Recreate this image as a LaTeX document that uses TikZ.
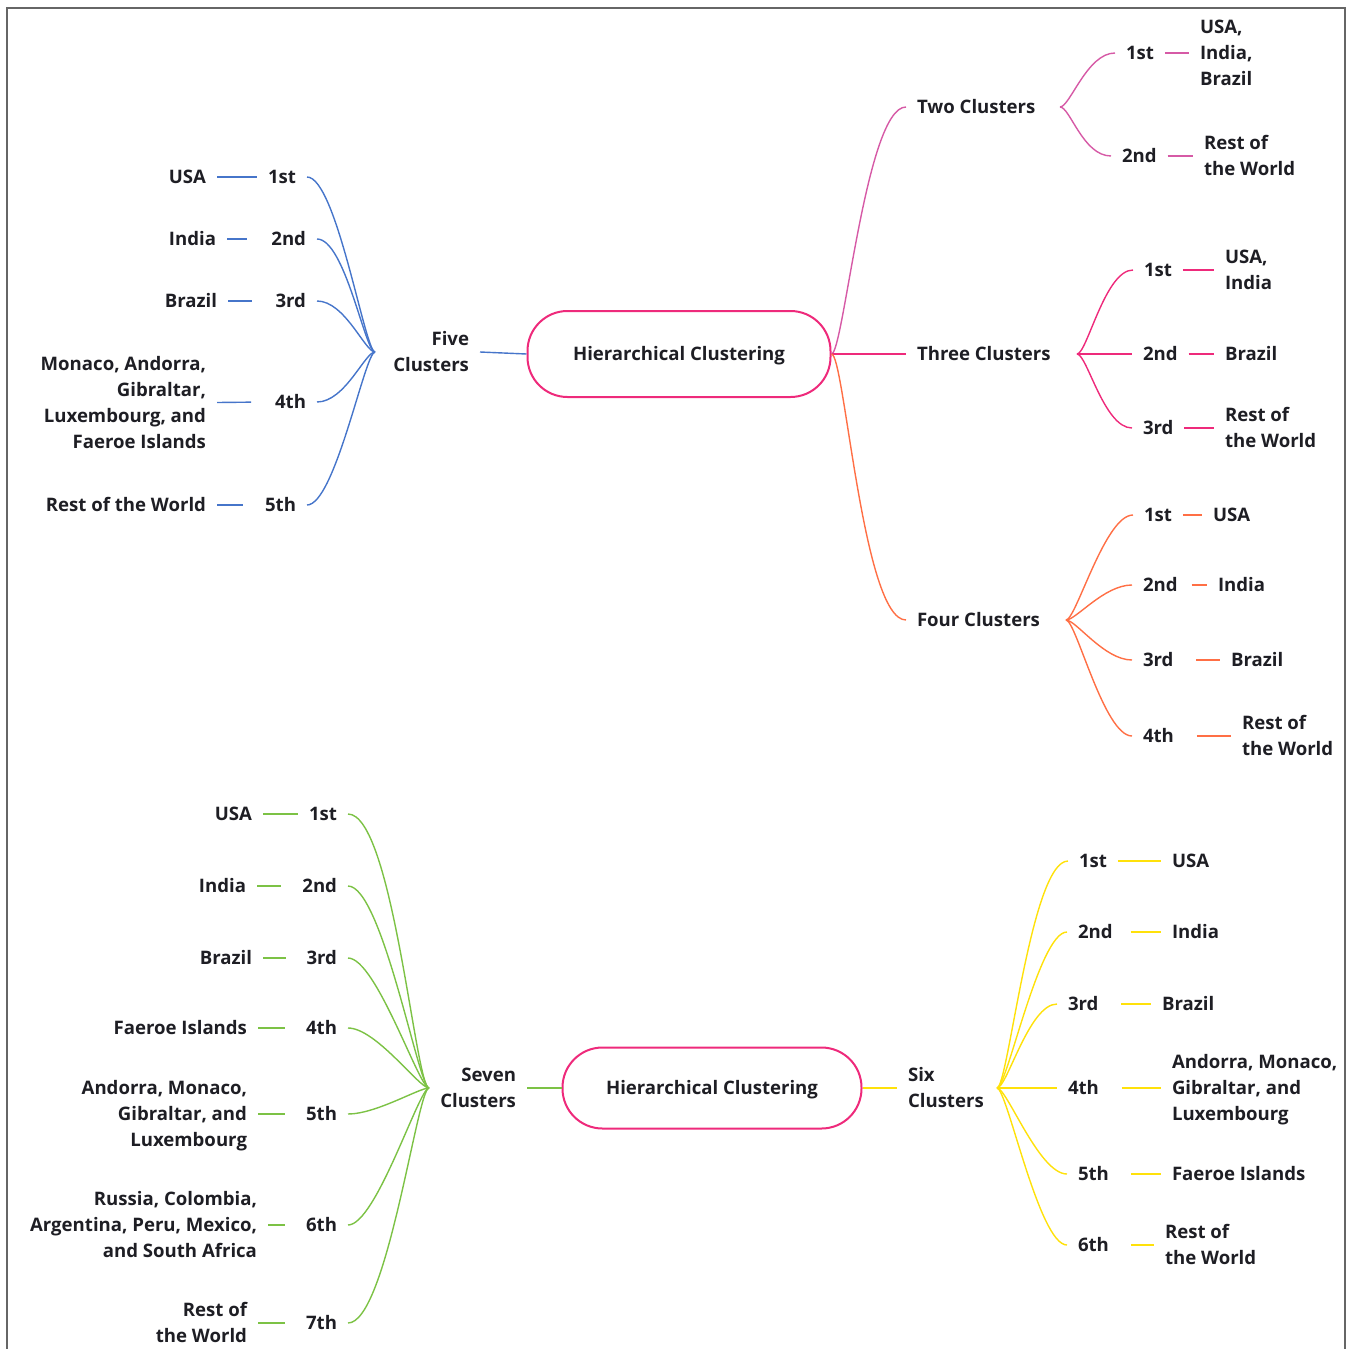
\documentclass[tikz,border=0pt]{standalone}
\usepackage{fontspec}
\setmainfont{Open Sans}
\definecolor{ink}{HTML}{1E1E24}
\definecolor{cblue}{HTML}{4675CA}
\definecolor{cmag}{HTML}{D65AA6}
\definecolor{cpink}{HTML}{EE2A7B}
\definecolor{corange}{HTML}{FF6F45}
\definecolor{cgreen}{HTML}{7CC245}
\definecolor{cyellow}{HTML}{FFE10A}
\definecolor{frame}{HTML}{666666}
\newcommand\zst{\rule[-0.25em]{0pt}{1.22em}}
\newcommand\fs{\bfseries\fontsize{18.6}{26}\selectfont}
\tikzset{
  txt/.style={inner sep=0pt, outer xsep=11pt, outer ysep=0pt, font=\fs, text=ink},
  lt/.style={txt, anchor=east, xshift=11pt},
  rt/.style={txt, anchor=west, xshift=-11pt},
  hcbox/.style={draw=cpink, line width=2pt, rounded corners=40pt, inner sep=0pt, font=\fs, text=ink},
  lnk/.style={line width=1.4pt},
  fanL/.style={lnk, out=0, in=180, out looseness=0.4, in looseness=0.12, out min distance=28pt, in min distance=10pt},
  fanR/.style={lnk, out=0, in=180, out looseness=0.12, in looseness=0.4, out min distance=10pt, in min distance=28pt}
}
\begin{document}
\begin{tikzpicture}[x=1pt,y=-1pt]
\useasboundingbox (0,0) rectangle (1348,1349);
\draw[frame, line width=1.5pt] (7,1352) -- (7,8) -- (1345,8) -- (1345,1352);

%================ TOP =================
\node[hcbox, minimum width=303pt, minimum height=86pt] (hc1) at (679,354) {\zst Hierarchical Clustering};

% ---- left : five clusters (blue)
\node[lt, align=right] (five) at (469,352) {\zst Five\\\zst Clusters};
\coordinate (f5) at (375,352);
\node[lt] (a1) at (296,177) {\zst 1st};
\node[lt] (a2) at (306,239) {\zst 2nd};
\node[lt] (a3) at (306,301) {\zst 3rd};
\node[lt] (a4) at (306,402) {\zst 4th};
\node[lt] (a5) at (296,505) {\zst 5th};
\node[lt] (ai1) at (206,177) {\zst USA};
\node[lt] (ai2) at (216,239) {\zst India};
\node[lt] (ai3) at (217,301) {\zst Brazil};
\node[lt, align=right] (ai4) at (206,402.5) {\zst Monaco, Andorra,\\\zst Gibraltar,\\\zst Luxembourg, and\\\zst Faeroe Islands};
\node[lt] (ai5) at (206,505) {\zst Rest of the World};
\begin{scope}[cblue]
\draw[lnk] (five.east) -- (hc1.west);
\foreach \i in {1,...,5} {\draw[fanL] (a\i.east) to (f5);}
\draw[lnk] (ai1.east) -- (a1.west);
\draw[lnk, shorten >=13pt] (ai2.east) -- (a2.west);
\draw[lnk, shorten >=13pt] (ai3.east) -- (a3.west);
\draw[lnk, shorten >=13pt] (ai4.east) -- (a4.west);
\draw[lnk, shorten >=11pt] (ai5.east) -- (a5.west);
\end{scope}

% ---- right : cluster labels
\node[rt] (two) at (917,107) {\zst Two Clusters};
\node[rt] (three) at (917,354) {\zst Three Clusters};
\node[rt] (four) at (917,620) {\zst Four Clusters};
\draw[fanR, cmag] (hc1.east) to (two.west);
\draw[lnk, cpink] (hc1.east) -- (three.west);
\draw[fanR, corange] (hc1.east) to (four.west);

% two clusters
\coordinate (f2) at (1060,107);
\node[rt] (b1) at (1126,53) {\zst 1st};
\node[rt] (b2) at (1122,156) {\zst 2nd};
\node[rt, align=left] (bi1) at (1200,53) {\zst USA,\\\zst India,\\\zst Brazil};
\node[rt, align=left] (bi2) at (1204,156) {\zst Rest of\\\zst the World};
\begin{scope}[cmag]
\draw[fanR] (f2) to (b1.west);
\draw[fanR] (f2) to (b2.west);
\draw[lnk] (b1.east) -- (bi1.west);
\draw[lnk] (b2.east) -- (bi2.west);
\end{scope}

% three clusters
\coordinate (f3) at (1077,354);
\node[rt] (c1) at (1144,270) {\zst 1st};
\node[rt] (c2) at (1143,354) {\zst 2nd};
\node[rt] (c3) at (1143,428) {\zst 3rd};
\node[rt, align=left] (ci1) at (1225,270) {\zst USA,\\\zst India};
\node[rt] (ci2) at (1225,354) {\zst Brazil};
\node[rt, align=left] (ci3) at (1225,428) {\zst Rest of\\\zst the World};
\begin{scope}[cpink]
\foreach \i in {1,2,3} {\draw[fanR] (f3) to (c\i.west);}
\draw[lnk] (c1.east) -- (ci1.west);
\draw[lnk] (c2.east) -- (ci2.west);
\draw[lnk] (c3.east) -- (ci3.west);
\end{scope}

% four clusters
\coordinate (f4) at (1066,620);
\node[rt] (d1) at (1144,515) {\zst 1st};
\node[rt] (d2) at (1143,585) {\zst 2nd};
\node[rt] (d3) at (1143,660) {\zst 3rd};
\node[rt] (d4) at (1143,736) {\zst 4th};
\node[rt] (di1) at (1213,515) {\zst USA};
\node[rt] (di2) at (1218,585) {\zst India};
\node[rt] (di3) at (1231,660) {\zst Brazil};
\node[rt, align=left] (di4) at (1242,736) {\zst Rest of\\\zst the World};
\begin{scope}[corange]
\foreach \i in {1,...,4} {\draw[fanR] (f4) to (d\i.west);}
\draw[lnk] (d1.east) -- (di1.west);
\draw[lnk, shorten <=3pt] (d2.east) -- (di2.west);
\draw[lnk, shorten <=12pt] (d3.east) -- (di3.west);
\draw[lnk, shorten <=12pt] (d4.east) -- (di4.west);
\end{scope}

%================ BOTTOM =================
\node[hcbox, minimum width=299pt, minimum height=81pt] (hc2) at (712,1088) {\zst Hierarchical Clustering};

% ---- left : seven clusters (green)
\node[lt, align=right] (seven) at (516,1088) {\zst Seven\\\zst Clusters};
\coordinate (f7) at (429,1088);
\node[lt] (g1) at (337,814) {\zst 1st};
\node[lt] (g2) at (337,886) {\zst 2nd};
\node[lt] (g3) at (337,958) {\zst 3rd};
\node[lt] (g4) at (337,1028) {\zst 4th};
\node[lt] (g5) at (337,1114) {\zst 5th};
\node[lt] (g6) at (337,1225) {\zst 6th};
\node[lt] (g7) at (337,1323) {\zst 7th};
\node[lt] (gi1) at (252,814) {\zst USA};
\node[lt] (gi2) at (246,886) {\zst India};
\node[lt] (gi3) at (252,958) {\zst Brazil};
\node[lt] (gi4) at (247,1028) {\zst Faeroe Islands};
\node[lt, align=right] (gi5) at (247,1114) {\zst Andorra, Monaco,\\\zst Gibraltar, and\\\zst Luxembourg};
\node[lt, align=right] (gi6) at (257,1225) {\zst Russia, Colombia,\\\zst Argentina, Peru, Mexico,\\\zst and South Africa};
\node[lt, align=right] (gi7) at (247,1323) {\zst Rest of\\\zst the World};
\begin{scope}[cgreen]
\draw[lnk] (seven.east) -- (hc2.west);
\foreach \i in {1,...,7} {\draw[fanL] (g\i.east) to (f7);}
\draw[lnk] (gi1.east) -- (g1.west);
\foreach \i in {2,...,7} {\draw[lnk, shorten >=10pt] (gi\i.east) -- (g\i.west);}
\end{scope}

% ---- right : six clusters (yellow)
\node[rt, align=left] (six) at (908,1088) {\zst Six\\\zst Clusters};
\coordinate (f6) at (997,1088);
\node[rt] (h1) at (1079,861) {\zst 1st};
\node[rt] (h2) at (1078,932) {\zst 2nd};
\node[rt] (h3) at (1068,1004) {\zst 3rd};
\node[rt] (h4) at (1068,1088) {\zst 4th};
\node[rt] (h5) at (1078,1174) {\zst 5th};
\node[rt] (h6) at (1078,1245) {\zst 6th};
\node[rt] (hi1) at (1172,861) {\zst USA};
\node[rt] (hi2) at (1172,932) {\zst India};
\node[rt] (hi3) at (1162,1004) {\zst Brazil};
\node[rt, align=left] (hi4) at (1172,1088) {\zst Andorra, Monaco,\\\zst Gibraltar, and\\\zst Luxembourg};
\node[rt] (hi5) at (1172,1174) {\zst Faeroe Islands};
\node[rt, align=left] (hi6) at (1165,1245) {\zst Rest of\\\zst the World};
\begin{scope}[cyellow]
\draw[lnk] (hc2.east) -- (six.west);
\foreach \i in {1,...,6} {\draw[fanR] (f6) to (h\i.west);}
\draw[lnk] (h1.east) -- (hi1.west);
\draw[lnk, shorten <=7pt] (h2.east) -- (hi2.west);
\draw[lnk, shorten <=12pt] (h3.east) -- (hi3.west);
\draw[lnk, shorten <=12pt] (h4.east) -- (hi4.west);
\draw[lnk, shorten <=11pt] (h5.east) -- (hi5.west);
\draw[lnk, shorten <=11pt] (h6.east) -- (hi6.west);
\end{scope}
\end{tikzpicture}
\end{document}
